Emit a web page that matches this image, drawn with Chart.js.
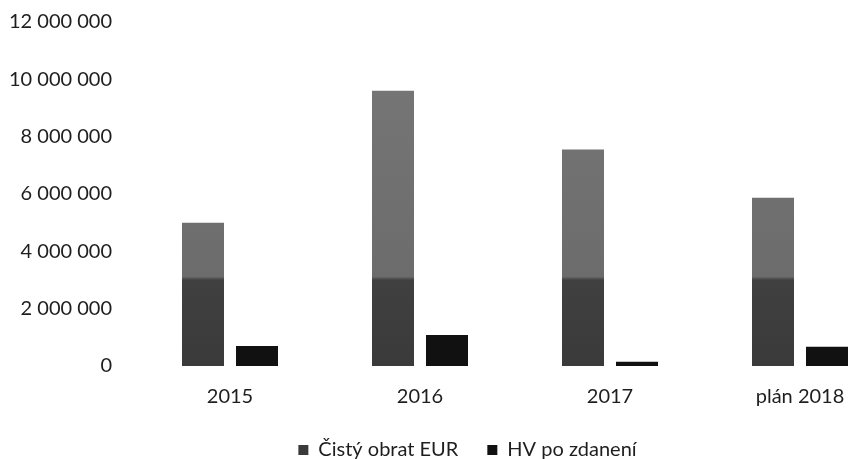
<!DOCTYPE html>
<html lang="sk">
<head>
<meta charset="UTF-8">
<title>Čistý obrat a HV po zdanení</title>
<script src="https://cdn.jsdelivr.net/npm/chart.js"></script>
<style>
    body { margin: 0; background: #ffffff; }
    .wrap { width: 848px; height: 459px; overflow: hidden; }
</style>
</head>
<body>
<div class="wrap">
    <canvas id="obratChart" width="904" height="470"></canvas>
</div>
<script>
    // dáta
    const roky = ['2015', '2016', '2017', 'plán 2018'];
    const cistyObrat = [5000000, 9600000, 7550000, 5870000];
    const hvPoZdaneni = [700000, 1080000, 150000, 670000];
    const yTicks = [0, 2000000, 4000000, 6000000, 8000000, 10000000, 12000000];

    const fmt = v => String(v).replace(/\B(?=(\d{3})+(?!\d))/g, ' ');
    const textColor = '#1e1e1e';
    const font = { family: 'Lato', size: 20 };

    // šedá výplň - tmavšia dolná časť, svetlejšia horná
    function grayFill(context) {
        const chart = context.chart;
        const area = chart.chartArea;
        if (!area) return '#555555';
        const y = chart.scales.y;
        const g = chart.ctx.createLinearGradient(0, area.bottom, 0, area.top);
        const split = (area.bottom - y.getPixelForValue(3000000)) / (area.bottom - area.top);
        g.addColorStop(0, '#3a3a3a');
        g.addColorStop(split, '#404040');
        g.addColorStop(split + 0.01, '#6c6c6c');
        g.addColorStop(1, '#787878');
        return g;
    }

    // legenda trochu doprava (stred pôvodného grafu)
    const legendShift = {
        id: 'legendShift',
        afterLayout(chart) {
            if (chart.legend) {
                chart.legend.left += 20;
                chart.legend.right += 20;
            }
        }
    };

    new Chart(document.getElementById('obratChart'), {
        type: 'bar',
        data: {
            labels: roky,
            datasets: [
                { label: 'Čistý obrat EUR', data: cistyObrat, backgroundColor: grayFill },
                { label: 'HV po zdanení', data: hvPoZdaneni, backgroundColor: '#111111' }
            ]
        },
        plugins: [legendShift],
        options: {
            responsive: false,
            animation: false,
            devicePixelRatio: 1,
            categoryPercentage: 0.5684,
            barPercentage: 0.7778,
            layout: { padding: { top: 22, right: 9, left: 0, bottom: 0 } },
            plugins: {
                tooltip: { enabled: false },
                legend: {
                    position: 'bottom',
                    labels: {
                        boxWidth: 10,
                        boxHeight: 10,
                        padding: 29,
                        color: textColor,
                        font: font
                    }
                }
            },
            scales: {
                x: {
                    grid: { display: false, drawTicks: false },
                    border: { display: false },
                    ticks: { color: textColor, font: font, padding: 19 },
                    afterFit: s => { s.height = 45; }
                },
                y: {
                    min: 0,
                    max: 12000000,
                    grid: { display: false, drawTicks: false },
                    border: { display: false },
                    afterBuildTicks: s => { s.ticks = yTicks.map(v => ({ value: v })); },
                    afterFit: s => { s.width = 135; s.paddingTop = 0; s.paddingBottom = 0; },
                    ticks: { color: textColor, font: font, padding: 23, callback: v => fmt(v) }
                }
            }
        }
    });
</script>
</body>
</html>
